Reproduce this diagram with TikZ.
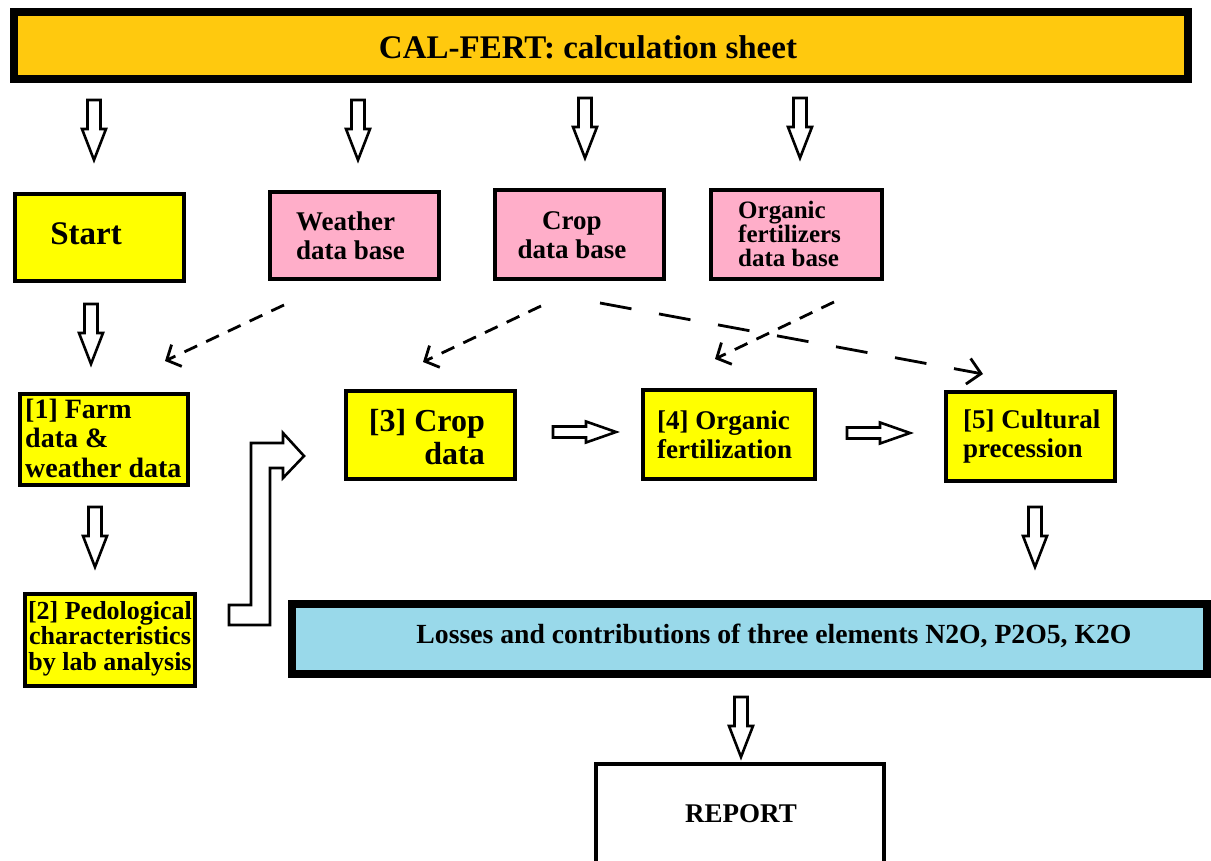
\documentclass[tikz,border=0pt]{standalone}
\usepackage{fontspec}
\setmainfont{Liberation Serif}
\usetikzlibrary{arrows.meta}
\definecolor{gold}{RGB}{255,201,14}
\definecolor{rose}{RGB}{255,174,201}
\definecolor{turq}{RGB}{153,217,234}
\definecolor{lemon}{RGB}{255,255,0}
\begin{document}
\begin{tikzpicture}[x=1pt,y=-1pt,
  box/.style={draw=black, line width=4pt, rectangle, inner sep=0pt},
  stepbox/.style={box, fill=lemon},
  dbbox/.style={box, fill=rose},
  txt/.style={font=\bfseries\fontsize{27}{29}\selectfont, inner sep=0pt},
  blk/.style={draw=black, line width=2.6pt, fill=white, line join=miter},
  dlink/.style={draw=black, line width=2.8pt, dash pattern=on 14pt off 10pt,
    -{Straight Barb[length=11pt,width=24pt,line width=2.8pt]}},
  longlink/.style={draw=black, line width=2.8pt, dash pattern=on 32pt off 28pt,
    -{Straight Barb[length=13pt,width=26pt,line width=2.8pt]}},
  pics/downblk/.style={code={
    \draw[blk] (-6.5,0) -- (6.5,0) -- (6.5,29) -- (12,29) -- (0,60)
      -- (-12,29) -- (-6.5,29) -- cycle;}},
  pics/rightblk/.style={code={
    \draw[blk] (0,-5.5) -- (33,-5.5) -- (33,-10.5) -- (63,0)
      -- (33,10.5) -- (33,5.5) -- (0,5.5) -- cycle;}}
]
\useasboundingbox (0,0) rectangle (1211,861);
\clip (0,0) rectangle (1211,861);

% title bar
\node[box, line width=8pt, fill=gold, minimum width=1174pt, minimum height=67pt] (title) at (601,45.5) {};
\node[txt, font=\bfseries\fontsize{33}{35}\selectfont] (titletxt) at (588,47) {CAL-FERT: calculation sheet};

% block arrows from the title bar
\pic at (94,100) {downblk};
\pic at (358,100) {downblk};
\pic at (585,98) {downblk};
\pic at (800,98) {downblk};

% start and data bases
\node[stepbox, minimum width=169pt, minimum height=87pt] (start) at (99.5,237.5) {};
\node[txt, font=\bfseries\fontsize{33}{35}\selectfont] (starttxt) at (86,234) {Start};

\node[dbbox, minimum width=169pt, minimum height=87pt] (weather) at (354.5,235.5) {};
\node[txt, align=left, anchor=west] (weathertxt) at (296,236) {Weather\\data base};

\node[dbbox, minimum width=169pt, minimum height=89pt] (cropdb) at (579.5,234.5) {};
\node[txt, align=center] (cropdbtxt) at (572,235) {Crop\\data base};

\node[dbbox, minimum width=171pt, minimum height=89pt] (orgdb) at (796.5,234.5) {};
\node[txt, align=left, anchor=west, font=\bfseries\fontsize{25}{24}\selectfont] (orgdbtxt) at (738,234) {Organic\\fertilizers\\data base};

% steps
\node[stepbox, minimum width=168pt, minimum height=91pt] (s1) at (104,439.5) {};
\node[txt, align=left, anchor=west, font=\bfseries\fontsize{28}{29.5}\selectfont] (s1txt) at (25,438) {[1] Farm\\data \&\\weather data};

\node[stepbox, minimum width=169pt, minimum height=88pt] (s3) at (430.5,435) {};
\node[txt, align=right, anchor=east, font=\bfseries\fontsize{32}{33}\selectfont] (s3txt) at (485,437) {[3] Crop\\data};

\node[stepbox, minimum width=172pt, minimum height=89pt] (s4) at (729,434.5) {};
\node[txt, align=left, anchor=west] (s4txt) at (657,435) {[4] Organic\\fertilization};

\node[stepbox, minimum width=169pt, minimum height=89pt] (s5) at (1030.5,436.5) {};
\node[txt, align=left, anchor=west] (s5txt) at (963,437) {[5] Cultural\\precession};

\node[stepbox, minimum width=170pt, minimum height=92pt] (s2) at (110,640) {};
\node[txt, align=center, font=\bfseries\fontsize{26}{25.5}\selectfont] (s2txt) at (110,638.5) {[2] Pedological\\characteristics\\by lab analysis};

% results
\node[box, line width=8pt, fill=turq, minimum width=915pt, minimum height=70pt] (loss) at (749.5,639) {};
\node[txt, font=\bfseries\fontsize{27.7}{29}\selectfont] (losstxt) at (774,636) {Losses and contributions of three elements N2O, P2O5, K2O};

\node[box, fill=white, minimum width=288pt, minimum height=136pt] (report) at (740,832) {};
\node[txt] (reporttxt) at (741,814) {REPORT};

% block arrows between steps
\pic at (91,304) {downblk};
\pic at (95,507) {downblk};
\pic at (1035,507) {downblk};
\pic at (741,697) {downblk};
\pic at (553,432) {rightblk};
\pic at (847,433) {rightblk};
\draw[blk] (229,605) -- (251,605) -- (251,443) -- (283,443) -- (283,433)
  -- (304,456) -- (283,478) -- (283,468) -- (270,468) -- (270,625)
  -- (229,625) -- cycle;

% dashed links from the data bases
\coordinate (w0) at (284,305);
\coordinate (w1) at (165,361);
\coordinate (c0) at (541,306);
\coordinate (c1) at (423,362);
\coordinate (o0) at (834,302);
\coordinate (o1) at (715,359);
\coordinate (l0) at (600,303);
\coordinate (l1) at (983,374);
\draw[dlink] (w0) -- (w1);
\draw[dlink] (c0) -- (c1);
\draw[dlink] (o0) -- (o1);
\draw[longlink] (l0) -- (l1);
\end{tikzpicture}
\end{document}
